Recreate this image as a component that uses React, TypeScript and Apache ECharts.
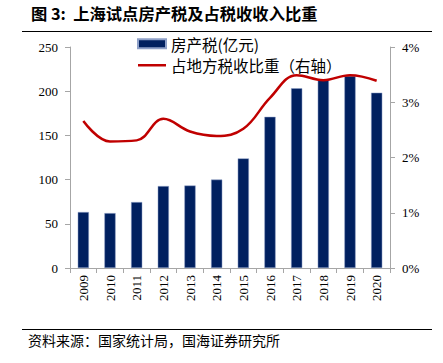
import React, { useEffect, useRef } from "react";
import * as echarts from "echarts";

const years = ["2009", "2010", "2011", "2012", "2013", "2014", "2015", "2016", "2017", "2018", "2019", "2020"];
const propertyTax = [63.3, 62.1, 74.6, 92.7, 93.3, 100.0, 124.0, 171.0, 203.3, 212.7, 217.2, 198.3];
const taxShare = [2.66, 2.29, 2.31, 2.70, 2.47, 2.39, 2.52, 3.08, 3.49, 3.40, 3.49, 3.39];
const leftTicks = [0, 50, 100, 150, 200, 250];
const rightTicks = [0, 1, 2, 3, 4];

export default function App() {
  const ref = useRef<HTMLDivElement>(null);
  useEffect(() => {
    const chart = echarts.init(ref.current!, null, { renderer: "svg" });
    const serif = "'Liberation Serif', 'Times New Roman', serif";
    const cjk = "'Noto Sans CJK SC', sans-serif";
    chart.setOption({
      animation: false,
      backgroundColor: "#ffffff",
      grid: { left: 70, right: 53, top: 47, bottom: 95, containLabel: false },
      legend: {
        orient: "vertical",
        left: 137,
        top: 36,
        padding: 0,
        itemWidth: 28,
        itemHeight: 9,
        itemGap: 6,
        textStyle: { fontFamily: cjk, fontSize: 15.5, color: "#000" },
        data: [
          { name: "房产税(亿元)", icon: "rect" },
          { name: "占地方税收比重（右轴）", icon: "path://M0,0 L28,0 L28,2.5 L0,2.5 Z", itemStyle: { color: "#C00000" } },
        ],
      },
      xAxis: {
        type: "category",
        data: years,
        axisLine: { lineStyle: { color: "#A6A6A6" } },
        axisTick: { show: true, length: 5, lineStyle: { color: "#A6A6A6" } },
        axisLabel: { rotate: 90, fontFamily: serif, fontSize: 13, color: "#000", margin: 7 },
      },
      yAxis: [
        {
          type: "value",
          min: leftTicks[0],
          max: leftTicks[leftTicks.length - 1],
          interval: 50,
          axisLine: { show: true, lineStyle: { color: "#A6A6A6" } },
          axisTick: { show: true, length: 5, lineStyle: { color: "#A6A6A6" } },
          splitLine: { show: false },
          axisLabel: { fontFamily: serif, fontSize: 13, color: "#000", margin: 12 },
        },
        {
          type: "value",
          min: rightTicks[0],
          max: rightTicks[rightTicks.length - 1],
          interval: 1,
          position: "right",
          axisLine: { show: true, lineStyle: { color: "#A6A6A6" } },
          axisTick: { show: true, length: 5, lineStyle: { color: "#A6A6A6" } },
          splitLine: { show: false },
          axisLabel: { fontFamily: serif, fontSize: 13, color: "#000", margin: 12, formatter: "{value}%" },
        },
      ],
      series: [
        {
          name: "房产税(亿元)",
          type: "bar",
          data: propertyTax,
          barWidth: "42%",
          itemStyle: { color: "#002060", borderColor: "#8EA0C8", borderWidth: 0.5 },
        },
        {
          name: "占地方税收比重（右轴）",
          type: "line",
          yAxisIndex: 1,
          data: taxShare,
          smooth: 0.4,
          symbol: "none",
          lineStyle: { color: "#C00000", width: 2.5 },
          itemStyle: { color: "#C00000" },
        },
      ],
      graphic: [
        {
          type: "text",
          left: 31,
          top: 5,
          style: { text: "图 3:  上海试点房产税及占税收收入比重", fontFamily: cjk, fontSize: 16.3, fontWeight: "bold", fill: "#000" },
        },
        { type: "line", shape: { x1: 22, y1: 31.5, x2: 432, y2: 31.5 }, style: { stroke: "#000", lineWidth: 1 } },
        { type: "line", shape: { x1: 22, y1: 329.5, x2: 432, y2: 329.5 }, style: { stroke: "#000", lineWidth: 1 } },
        {
          type: "text",
          left: 28,
          top: 333,
          style: { text: "资料来源：国家统计局，国海证券研究所", fontFamily: cjk, fontSize: 14, fill: "#000" },
        },
      ],
    });
    return () => chart.dispose();
  }, []);
  return <div ref={ref} style={{ width: 443, height: 363, position: "absolute", left: 0, top: 0 }} />;
}
